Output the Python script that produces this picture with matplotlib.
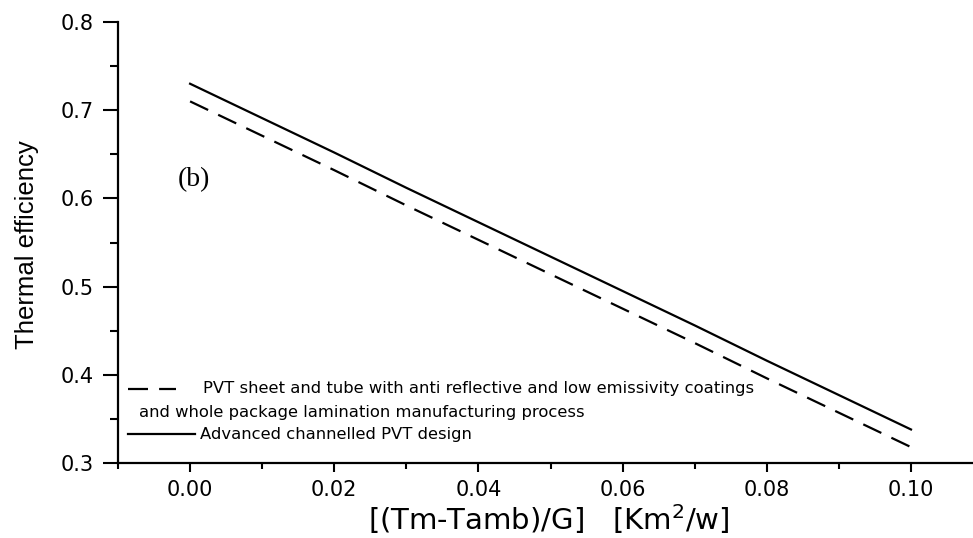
import matplotlib
matplotlib.use("Agg")
import matplotlib.pyplot as plt
from matplotlib import font_manager
from matplotlib.lines import Line2D
from matplotlib.ticker import MultipleLocator, FormatStrFormatter

# Data
x_vals = [0.00, 0.01, 0.02, 0.03, 0.04, 0.05, 0.06, 0.07, 0.08, 0.09, 0.10]
eff_sheet_tube = [0.710, 0.671, 0.632, 0.592, 0.553, 0.514, 0.475, 0.436, 0.396, 0.357, 0.318]
eff_channelled = [0.730, 0.691, 0.652, 0.612, 0.573, 0.534, 0.495, 0.456, 0.416, 0.377, 0.338]
label_sheet_1 = "PVT sheet and tube with anti reflective and low emissivity coatings"
label_sheet_2 = "and whole package lamination manufacturing process"
label_channel = "Advanced channelled PVT design"
x_ticks = [0.00, 0.02, 0.04, 0.06, 0.08, 0.10]
y_ticks = [0.3, 0.4, 0.5, 0.6, 0.7, 0.8]

names = {f.name for f in font_manager.fontManager.ttflist}
narrow = "Liberation Sans Narrow" if "Liberation Sans Narrow" in names else "Liberation Sans"

W, H = 973, 538
fig = plt.figure(figsize=(9.73, 5.38), dpi=100)
ax = fig.add_axes([118 / W, 1 - 463 / H, 1 - 118 / W, (463 - 22) / H])

ax.plot(x_vals, eff_sheet_tube, color="black", lw=1.6, linestyle=(0, (9, 5)))
ax.plot(x_vals, eff_channelled, color="black", lw=1.6)

ax.set_xlim(-0.01, 0.1086)
ax.set_ylim(0.3, 0.8)
ax.set_xticks(x_ticks)
ax.set_yticks(y_ticks)
ax.xaxis.set_minor_locator(MultipleLocator(0.01))
ax.yaxis.set_minor_locator(MultipleLocator(0.05))
ax.xaxis.set_major_formatter(FormatStrFormatter("%.2f"))
ax.yaxis.set_major_formatter(FormatStrFormatter("%.1f"))

for s in ["top", "right"]:
    ax.spines[s].set_visible(False)
for s in ["left", "bottom"]:
    ax.spines[s].set_linewidth(1.6)

ax.tick_params(axis="y", which="major", length=10.5, width=1.5, direction="out", labelsize=15, pad=7)
ax.tick_params(axis="y", which="minor", length=5.5, width=1.5, direction="out")
ax.tick_params(axis="x", which="major", length=6.5, width=1.5, direction="out", labelsize=15, pad=5.5)
ax.tick_params(axis="x", which="minor", length=4, width=1.5, direction="out")
for lab in ax.get_xticklabels() + ax.get_yticklabels():
    lab.set_fontfamily("DejaVu Sans")

ax.set_xlabel("[(Tm-Tamb)/G]   [Km$^2$/w]", fontsize=21, fontfamily="DejaVu Sans", va="baseline")
ax.xaxis.set_label_coords((549 - 118) / 855, (463 - 530) / 441)
ax.set_ylabel("Thermal efficiency", fontsize=18.5, fontfamily=narrow, va="center")
ax.yaxis.set_label_coords((27 - 118) / 855, (463 - 245) / 441)

fig.text(178 / W, 1 - 180 / H, "(b)", fontsize=20, fontfamily="Liberation Serif",
         va="center", ha="left")

# legend (manual, figure coordinates)
fig.lines.append(Line2D([128 / W, 176 / W], [1 - 389 / H] * 2, transform=fig.transFigure,
                        color="black", lw=1.6, linestyle=(0, (9, 5))))
fig.lines.append(Line2D([128 / W, 195 / W], [1 - 434 / H] * 2, transform=fig.transFigure,
                        color="black", lw=1.6))
fig.text(203 / W, 1 - 389 / H, label_sheet_1, fontsize=11.8, fontfamily="DejaVu Sans", va="center")
fig.text(139 / W, 1 - 412 / H, label_sheet_2, fontsize=11.8, fontfamily="DejaVu Sans", va="center")
fig.text(200 / W, 1 - 435 / H, label_channel, fontsize=11.8, fontfamily="DejaVu Sans", va="center")

fig.savefig("out.png", dpi=100)
